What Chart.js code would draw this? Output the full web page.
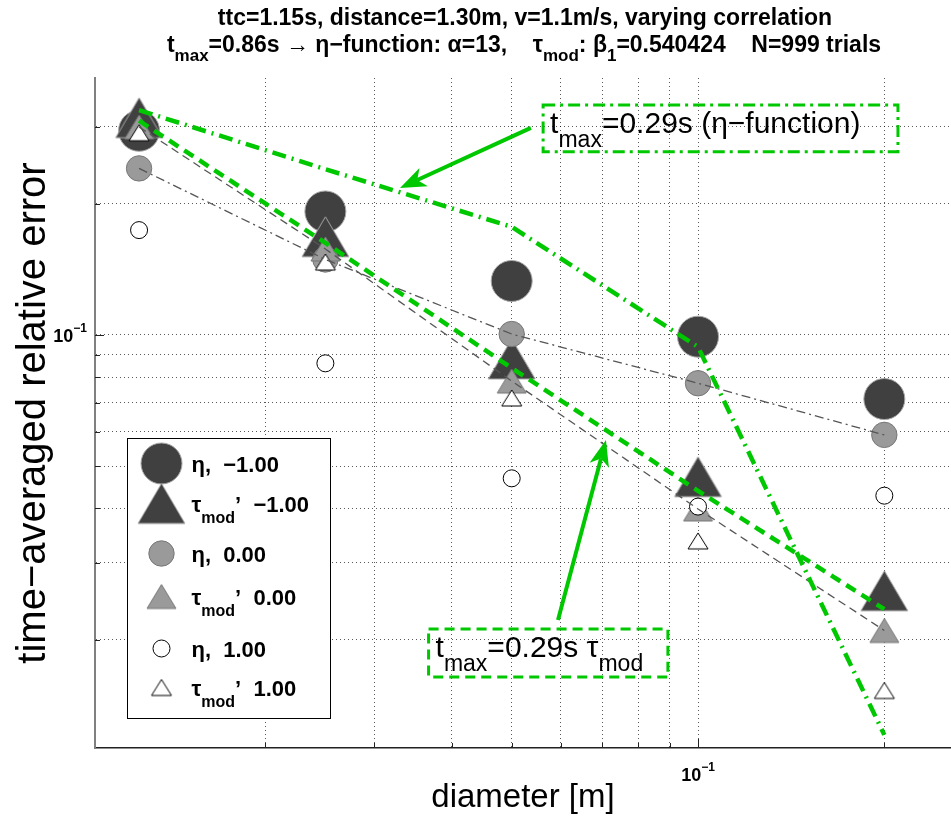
<!DOCTYPE html>
<html>
<head>
<meta charset="utf-8">
<script src="https://cdn.jsdelivr.net/npm/chart.js@4.4.1/dist/chart.umd.min.js"></script>
<style>
  html, body { margin: 0; padding: 0; background: #fff; }
  #wrap { width: 951px; height: 818px; }
</style>
</head>
<body>
<div id="wrap"><canvas id="c" width="951" height="818"></canvas></div>
<script>
// diameters [m]
const diameters = [0.0125, 0.025, 0.05, 0.1, 0.2];

// time-averaged relative error, one array per correlation / model
const etaNeg  = [0.294, 0.192, 0.133, 0.0991, 0.0713];
const tauNeg  = [0.315, 0.168, 0.0881, 0.0473, 0.0259];
const etaZero = [0.241, 0.149, 0.1005, 0.0775, 0.059];
const tauZero = [0.300, 0.1575, 0.0784, 0.0399, 0.0210];
const etaPos  = [0.174, 0.0861, 0.0469, 0.0404, 0.0428];
const tauPos  = [0.291, 0.147, 0.0717, 0.0337, 0.0153];

// tmax = 0.29s curves
const etaFast = [0.328, 0.240, 0.177, 0.0939, 0.0121];
const tauFast = [0.310, 0.1626, 0.084, 0.0439, 0.0235];

const xTicks = [0.02, 0.03, 0.04, 0.05, 0.06, 0.07, 0.08, 0.09, 0.1, 0.2];
const yTicks = [0.02, 0.03, 0.04, 0.05, 0.06, 0.07, 0.08, 0.09, 0.1, 0.2, 0.3];
const labelled = [0.1];

const GREEN = '#00c800';
const DARK = '#404040';
const GREY = '#9a9a9a';

const pts = arr => diameters.map((d, i) => ({ x: d, y: arr[i] }));

function tri(w, h, fill, stroke) {
  const c = document.createElement('canvas');
  c.width = w + 4; c.height = h + 4;
  const g = c.getContext('2d');
  g.beginPath();
  g.moveTo(c.width / 2, 2);
  g.lineTo(w + 2, h + 2);
  g.lineTo(2, h + 2);
  g.closePath();
  g.fillStyle = fill; g.fill();
  g.lineWidth = 1; g.strokeStyle = stroke; g.stroke();
  return c;
}

const triDark = tri(47, 40, DARK, '#a8a8a8');
const triGrey = tri(29, 24, GREY, '#777');
const triWhite = tri(20, 16, '#fff', '#000');

function marks(arr, style, r, fill, edge) {
  return {
    data: pts(arr), showLine: false,
    pointStyle: style, pointRadius: r, pointHoverRadius: r,
    pointBackgroundColor: fill, pointBorderColor: edge, pointBorderWidth: 1
  };
}
function curve(arr, color, width, dash) {
  return {
    data: pts(arr), showLine: true, pointRadius: 0, tension: 0,
    borderColor: color, borderWidth: width, borderDash: dash,
    borderCapStyle: 'butt', fill: false
  };
}

const datasets = [
  marks(etaNeg, 'circle', 20.5, DARK, '#a8a8a8'),
  marks(tauNeg, triDark, 20, DARK, DARK),
  marks(etaZero, 'circle', 12.7, GREY, '#777'),
  marks(tauZero, triGrey, 12, GREY, GREY),
  marks(etaPos, 'circle', 8.5, '#fff', '#000'),
  marks(tauPos, triWhite, 8, '#fff', '#000'),
  curve(etaZero, '#555', 1.3, [9, 4, 2, 4]),
  curve(tauZero, '#555', 1.3, [8, 5]),
  curve(etaFast, GREEN, 4.5, [14, 6, 2, 6]),
  curve(tauFast, GREEN, 4.5, [11, 7])
];
datasets.forEach((d, i) => { d.order = datasets.length - i; });

// legend rows: dataset index, label pieces ([text, subscript])
const legendRows = [
  { ds: 0, y: 25, parts: [['η,  ', 0], ['−1.00', 0]] },
  { ds: 1, y: 65, parts: [['τ', 0], ['mod', 1], ['’  −1.00', 0]] },
  { ds: 2, y: 115, parts: [['η,  ', 0], ['0.00', 0]] },
  { ds: 3, y: 158, parts: [['τ', 0], ['mod', 1], ['’  0.00', 0]] },
  { ds: 4, y: 210, parts: [['η,  ', 0], ['1.00', 0]] },
  { ds: 5, y: 249, parts: [['τ', 0], ['mod', 1], ['’  1.00', 0]] }
];

// text boxes and arrows, anchored in data units
const notes = [
  { box: [0.0562, 0.2104, 0.337, 0.263], dash: [12, 5, 3, 5],
    text: [['t', 0], ['max', 1], ['=0.29s (η−function)', 0]],
    tail: [0.0537, 0.2985], tip: [0.0330, 0.2174] },
  { box: [0.0367, 0.0894, 0.02117, 0.01643], dash: [10, 6],
    text: [['t', 0], ['max', 1], ['=0.29s τ', 0], ['mod', 1]],
    tail: [0.0594, 0.0222], tip: [0.0710, 0.0574] }
];

function rich(ctx, parts, x, y, main, sub, dy, align) {
  const w = parts.map(p => { ctx.font = p[1] ? sub : main; return ctx.measureText(p[0]).width; });
  const total = w.reduce((a, b) => a + b, 0);
  let cx = align === 'center' ? x - total / 2 : align === 'right' ? x - total : x;
  ctx.textAlign = 'left';
  ctx.textBaseline = 'alphabetic';
  parts.forEach((p, i) => {
    ctx.font = p[1] ? sub : main;
    ctx.fillText(p[0], cx, y + (p[1] ? dy : 0));
    cx += w[i];
  });
}

function arrow(ctx, x0, y0, x1, y1) {
  const a = Math.atan2(y1 - y0, x1 - x0);
  const L = 26, W = 10, N = 7;
  const bx = x1 - L * Math.cos(a), by = y1 - L * Math.sin(a);
  ctx.beginPath();
  ctx.moveTo(x0, y0);
  ctx.lineTo(x1 - (L - N) * Math.cos(a), y1 - (L - N) * Math.sin(a));
  ctx.lineWidth = 4; ctx.strokeStyle = GREEN; ctx.setLineDash([]); ctx.stroke();
  ctx.beginPath();
  ctx.moveTo(x1, y1);
  ctx.lineTo(bx - W * Math.sin(a), by + W * Math.cos(a));
  ctx.lineTo(x1 - (L - N) * Math.cos(a), y1 - (L - N) * Math.sin(a));
  ctx.lineTo(bx + W * Math.sin(a), by - W * Math.cos(a));
  ctx.closePath();
  ctx.fillStyle = GREEN; ctx.fill();
}

const powParts = v => [['10', 0], [String(Math.round(Math.log10(v))).replace('-', '−'), 1]];
const TICK_MAIN = 'bold 18px "Liberation Sans"', TICK_SUP = 'bold 12px "Liberation Sans"';

const extras = {
  id: 'extras',
  beforeDatasetsDraw(chart) {
    // inward tick marks, MATLAB style
    const { ctx, chartArea: ca, scales: { x, y } } = chart;
    ctx.save();
    ctx.strokeStyle = '#222'; ctx.lineWidth = 1; ctx.setLineDash([]);
    ctx.beginPath();
    x.ticks.forEach(t => {
      const px = Math.round(x.getPixelForValue(t.value)) + 0.5;
      ctx.moveTo(px, ca.bottom); ctx.lineTo(px, ca.bottom - (labelled.includes(t.value) ? 9 : 5));
    });
    y.ticks.forEach(t => {
      const py = Math.round(y.getPixelForValue(t.value)) + 0.5;
      ctx.moveTo(ca.left, py); ctx.lineTo(ca.left + (labelled.includes(t.value) ? 9 : 5), py);
    });
    ctx.stroke();
    // tick labels with raised exponent
    ctx.fillStyle = '#000';
    labelled.forEach(v => {
      rich(ctx, powParts(v), x.getPixelForValue(v), ca.bottom + 33, TICK_MAIN, TICK_SUP, -10, 'center');
      rich(ctx, powParts(v), ca.left - 8, y.getPixelForValue(v) + 7, TICK_MAIN, TICK_SUP, -10, 'right');
    });
    ctx.restore();
  },
  afterDatasetsDraw(chart) {
    const { ctx, scales: { x, y } } = chart;
    ctx.save();
    // legend
    const lx = 127.5, ly = 438.5;
    ctx.fillStyle = '#fff';
    ctx.fillRect(lx, ly, 203, 280);
    ctx.strokeStyle = '#000'; ctx.lineWidth = 1; ctx.setLineDash([]);
    ctx.strokeRect(lx, ly, 203, 280);
    legendRows.forEach(r => {
      const d = chart.data.datasets[r.ds];
      const cx = lx + 34, cy = ly + r.y;
      if (d.pointStyle === 'circle') {
        ctx.beginPath();
        ctx.arc(cx, cy, d.pointRadius, 0, Math.PI * 2);
        ctx.fillStyle = d.pointBackgroundColor; ctx.fill();
        ctx.strokeStyle = d.pointBorderColor; ctx.stroke();
      } else {
        const im = d.pointStyle;
        ctx.drawImage(im, cx - im.width / 2, cy - im.height / 2);
      }
      ctx.fillStyle = '#000';
      rich(ctx, r.parts, lx + 64, cy + 8, 'bold 22px "Liberation Sans"', 'bold 16px "Liberation Sans"', 11);
    });
    // annotations
    notes.forEach(n => {
      const l = x.getPixelForValue(n.box[0]), rr = x.getPixelForValue(n.box[1]);
      const t = y.getPixelForValue(n.box[2]), b = y.getPixelForValue(n.box[3]);
      ctx.setLineDash(n.dash); ctx.lineWidth = 3; ctx.strokeStyle = GREEN;
      ctx.strokeRect(l, t, rr - l, b - t);
      ctx.setLineDash([]);
      ctx.fillStyle = '#000';
      rich(ctx, n.text, l + 7, t + 28, '30px "Liberation Sans"', '23px "Liberation Sans"', 14);
      arrow(ctx, x.getPixelForValue(n.tail[0]), y.getPixelForValue(n.tail[1]),
        x.getPixelForValue(n.tip[0]), y.getPixelForValue(n.tip[1]));
    });
    // title
    ctx.fillStyle = '#000';
    const tf = 'bold 23px "Liberation Sans"', sf = 'bold 17px "Liberation Sans"';
    rich(ctx, [['ttc=1.15s, distance=1.30m, v=1.1m/s, varying correlation', 0]], 525, 25, tf, sf, 0, 'center');
    rich(ctx, [['t', 0], ['max', 1], ['=0.86s → η−function: α=13,    τ', 0], ['mod', 1],
      [': β', 0], ['1', 1], ['=0.540424    N=999 trials', 0]], 524, 52, tf, sf, 9, 'center');
    ctx.restore();
  }
};

new Chart(document.getElementById('c'), {
  type: 'line',
  data: { datasets },
  plugins: [extras],
  options: {
    responsive: false,
    animation: false,
    layout: { autoPadding: false, padding: { top: 78, left: 0, right: 0, bottom: 0 } },
    plugins: { legend: { display: false }, tooltip: { enabled: false } },
    scales: {
      x: {
        type: 'logarithmic', min: 0.01061, max: 0.2563,
        afterFit: s => { s.height = 70; },
        afterBuildTicks: s => { s.ticks = xTicks.map(v => ({ value: v })); },
        grid: { color: 'rgba(0,0,0,0.65)', lineWidth: 1, drawTicks: false },
        border: { color: '#222', width: 1.5, dash: [1, 3] },
        ticks: { autoSkip: false, maxRotation: 0, callback: () => '' },
        title: {
          display: true, text: 'diameter [m]', color: '#000',
          font: { family: 'Liberation Sans', size: 33 }, padding: { top: 0, bottom: 0 }
        }
      },
      y: {
        type: 'logarithmic', min: 0.01129, max: 0.3885,
        afterFit: s => { s.width = 95; },
        afterBuildTicks: s => { s.ticks = yTicks.map(v => ({ value: v })); },
        grid: { color: 'rgba(0,0,0,0.65)', lineWidth: 1, drawTicks: false },
        border: { color: '#808080', width: 2, dash: [1, 3] },
        ticks: { autoSkip: false, callback: () => '' },
        title: {
          display: true, text: 'time−averaged relative error', color: '#000',
          font: { family: 'Liberation Sans', size: 40 }, padding: { top: 10, bottom: 0 }
        }
      }
    }
  }
});
</script>
</body>
</html>
